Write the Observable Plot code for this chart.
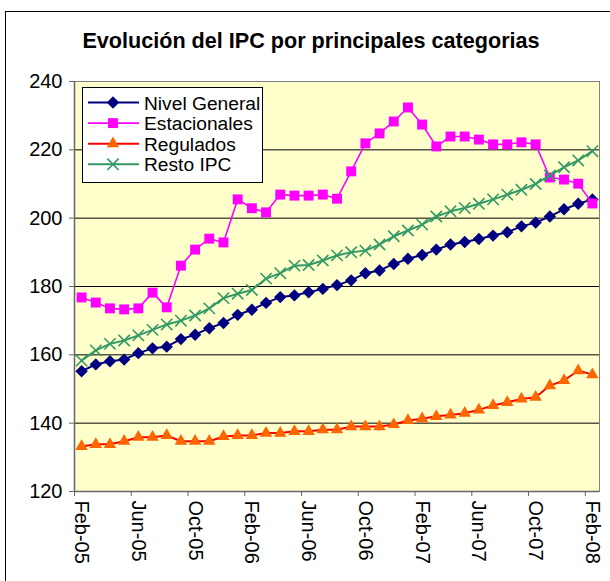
<!DOCTYPE html>
<html><head><meta charset="utf-8">
<script src="https://cdn.jsdelivr.net/npm/d3@7"></script>
<script src="https://cdn.jsdelivr.net/npm/@observablehq/plot@0.6"></script>
<style>
html,body{margin:0;padding:0;background:#fff;overflow:hidden;}
#wrap{position:relative;width:610px;height:581px;font-family:"Liberation Sans",Arial,sans-serif;color:#000;overflow:hidden;}
#border{position:absolute;left:5px;top:11px;width:640px;height:640px;border:1px solid #000;box-sizing:border-box;}
#chart{position:absolute;left:0;top:0;}
#title{position:absolute;left:0;width:622px;top:30px;text-align:center;font-weight:bold;font-size:21.6px;line-height:22px;white-space:nowrap;}
#legend{position:absolute;left:82px;top:87px;}
</style>
</head><body>
<div id="wrap">
  <div id="border"></div>
  <div id="chart"></div>
  <div id="title">Evolución del IPC por principales categorias</div>
  <div id="legend"></div>
</div>
<script>
// ---- data ----
const months = ["Feb-05","Mar-05","Apr-05","May-05","Jun-05","Jul-05","Aug-05","Sep-05","Oct-05","Nov-05","Dec-05","Jan-06",
  "Feb-06","Mar-06","Apr-06","May-06","Jun-06","Jul-06","Aug-06","Sep-06","Oct-06","Nov-06","Dec-06","Jan-07",
  "Feb-07","Mar-07","Apr-07","May-07","Jun-07","Jul-07","Aug-07","Sep-07","Oct-07","Nov-07","Dec-07","Jan-08","Feb-08"];
const seriesNames = ["Nivel General","Estacionales","Regulados","Resto IPC"];
const nivelGeneral = [155.2,157.2,158.1,158.6,160.5,161.9,162.4,164.6,165.9,167.8,169.3,171.7,
  173.2,175.2,176.9,177.4,178.3,179.3,180.4,181.8,183.9,184.7,186.6,188.1,
  189.2,190.8,192.3,193.0,193.9,194.9,195.9,197.6,198.7,200.5,202.6,204.2,205.5];
const estacionales = [176.8,175.3,173.6,173.3,173.6,178.2,173.9,186.1,190.8,194.0,192.9,205.5,
  202.9,201.7,206.9,206.6,206.6,206.9,205.7,213.7,221.9,224.8,228.3,232.4,
  227.4,221.0,223.9,223.9,223.0,221.6,221.6,222.2,221.6,211.9,211.3,210.1,204.3];
const regulados = [133.2,133.8,133.8,134.7,135.9,135.9,136.4,134.7,134.7,134.7,136.1,136.4,
  136.4,137.1,137.1,137.6,137.6,138.1,138.1,139.0,139.0,139.0,139.6,140.8,
  141.3,142.0,142.4,142.9,143.9,145.2,146.1,147.1,147.6,151.0,152.5,155.4,154.2];
const restoIPC = [158.3,161.3,163.2,164.2,165.7,167.3,168.9,170.0,171.5,173.6,176.6,177.9,
  179.0,182.3,183.9,186.1,186.3,187.6,189.1,190.0,190.5,192.3,194.7,196.4,
  198.1,200.5,202.0,203.0,204.2,205.5,206.9,208.3,210.0,212.5,214.9,216.9,219.6];
const yTicks = [120,140,160,180,200,220,240];
const labelEvery = 4;

// ---- styles ----
const styles = {
  "Nivel General": {line:"#000080", width:2, symbol:"diamond2", fill:"#000080", stroke:"none", r:5.6, d3sym:d3.symbolDiamond2},
  "Estacionales":  {line:"#FF00FF", width:1.6, symbol:"square", fill:"#FF00FF", stroke:"none", r:5.6, d3sym:d3.symbolSquare},
  "Regulados":     {line:"#FF0000", width:2, symbol:"triangle", fill:"#FF6600", stroke:"none", r:4.6, d3sym:d3.symbolTriangle},
  "Resto IPC":     {line:"#339966", width:2, symbol:"times", fill:"none", stroke:"#339966", r:5.2, d3sym:d3.symbolTimes}
};

const valuesBySeries = [nivelGeneral, estacionales, regulados, restoIPC];
const rows = seriesNames.map((s, k) => valuesBySeries[k].map((v, i) => ({s, i, month: months[i], v})));

const labelIdx = months.map((m, i) => i).filter(i => i % labelEvery === 0);
const boundaryTicks = labelIdx.map(i => i - 0.5);

const marks = [
  Plot.frame({fill:"#FFFFCC", stroke:"#808080"}),
  Plot.ruleY(yTicks.filter(t => t > 120 && t < 240), {stroke:"#000", strokeWidth:1}),
  Plot.ruleY([120], {stroke:"#666", strokeWidth:1.5}),
  Plot.ruleX([-0.5], {stroke:"#666", strokeWidth:1.5}),
  Plot.axisY(yTicks, {tickSize:5, tickPadding:7, label:null, fontSize:20, stroke:"#666"}),
  Plot.axisX(boundaryTicks, {tickSize:5, tickFormat:() => "", label:null, stroke:"#666"}),
  Plot.axisX(labelIdx, {tickSize:0, tickPadding:9, tickRotate:90, tickFormat: i => months[i], label:null, fontSize:20})
];
rows.forEach((data, k) => {
  const st = styles[seriesNames[k]];
  marks.push(Plot.line(data, {x:"i", y:"v", stroke:st.line, strokeWidth:st.width}));
  marks.push(Plot.dot(data, {x:"i", y:"v", symbol:st.symbol, r:st.r, fill:st.fill, stroke:st.stroke, strokeWidth:1.6}));
});

const chart = Plot.plot({
  width:610, height:581,
  marginLeft:74, marginRight:11, marginTop:81, marginBottom:90,
  style:{background:"transparent", fontFamily:'"Liberation Sans", Arial, sans-serif', fontSize:"20px", color:"#000"},
  x:{domain:[-0.5, 36.5], axis:null},
  y:{domain:[120, 240], axis:null},
  marks
});
document.getElementById("chart").appendChild(chart);

// ---- legend ----
const lw = 181, lh = 96;
const leg = d3.select("#legend").append("svg").attr("width", lw).attr("height", lh)
  .style("font-family", '"Liberation Sans", Arial, sans-serif');
leg.append("rect").attr("x",0.5).attr("y",0.5).attr("width",lw-1).attr("height",lh-1).attr("fill","#fff").attr("stroke","#000");
seriesNames.forEach((s, k) => {
  const st = styles[s];
  const cy = 15.5 + k * 20.6;
  const g = leg.append("g");
  g.append("line").attr("x1",6).attr("x2",57).attr("y1",cy).attr("y2",cy).attr("stroke",st.line).attr("stroke-width",st.width);
  g.append("path").attr("transform",`translate(31,${cy})`)
    .attr("d", d3.symbol(st.d3sym, Math.PI * st.r * st.r)())
    .attr("fill", st.fill).attr("stroke", st.stroke).attr("stroke-width",1.6);
  g.append("text").attr("x",62).attr("y",cy + 7).attr("font-size",19.2).text(s);
});
</script>
</body></html>
